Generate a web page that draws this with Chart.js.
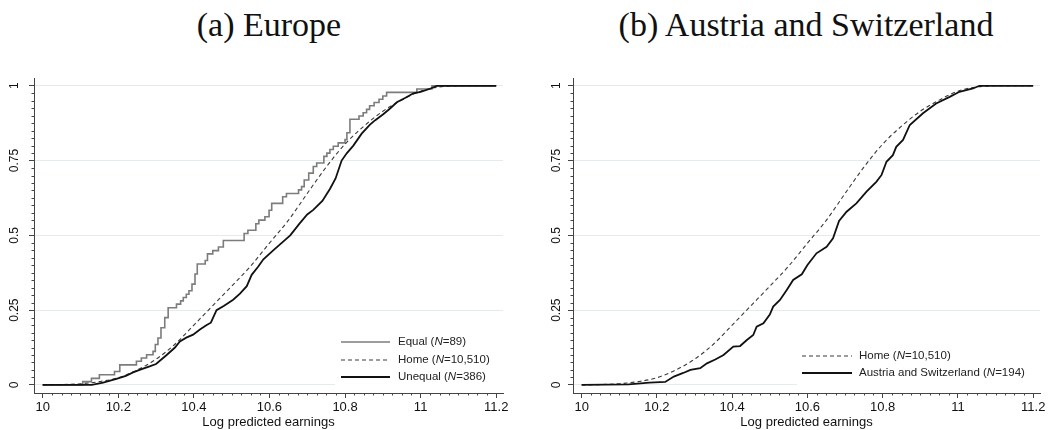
<!DOCTYPE html>
<html>
<head>
<meta charset="utf-8">
<script src="https://cdn.jsdelivr.net/npm/chart.js@4.4.1/dist/chart.umd.min.js"></script>
<style>
  body { margin: 0; width: 1055px; height: 430px; background: #fff; position: relative; overflow: hidden; }
  .titulo { position: absolute; top: 8px; font-family: "Liberation Serif", serif; font-size: 34px; line-height: 34px; color: #111; text-align: center; white-space: nowrap; }
  .painel { position: absolute; top: 60px; height: 370px; }
</style>
</head>
<body>
<div class="titulo" style="left:0;width:538px">(a) Europe</div>
<div class="titulo" style="left:527px;width:558px">(b) Austria and Switzerland</div>
<div class="painel" style="left:0;width:527px"><canvas id="chartEuropa"></canvas></div>
<div class="painel" style="left:527px;width:528px"><canvas id="chartAustria"></canvas></div>

<script>
// Eixos
const xTicks = [10, 10.2, 10.4, 10.6, 10.8, 11, 11.2];
const xTickLabels = ['10', '10.2', '10.4', '10.6', '10.8', '11', '11.2'];
const yTicks = [0, 0.25, 0.5, 0.75, 1];
const yTickLabels = ['0', '0.25', '0.5', '0.75', '1'];
const xTitulo = 'Log predicted earnings';

// Home (N=10,510) - mesma curva nos dois painéis
const homeX = [10.0, 10.05, 10.1, 10.15, 10.2, 10.25, 10.3, 10.35, 10.4, 10.45, 10.5, 10.55, 10.6, 10.65, 10.7, 10.75, 10.8, 10.85, 10.9, 10.95, 11.0, 11.05, 11.1, 11.2];
const homeY = [0, 0.001, 0.004, 0.011, 0.024, 0.05, 0.086, 0.136, 0.2, 0.265, 0.33, 0.397, 0.474, 0.55, 0.64, 0.728, 0.805, 0.865, 0.915, 0.952, 0.982, 0.996, 1.0, 1.0];

// Equal (N=89)
const equalX = [10.0, 10.106, 10.129, 10.15, 10.19, 10.204, 10.248, 10.261, 10.275, 10.292, 10.298, 10.305, 10.313, 10.323, 10.332, 10.354, 10.365, 10.372, 10.38, 10.387, 10.395, 10.403, 10.409, 10.43, 10.436, 10.45, 10.465, 10.478, 10.533, 10.543, 10.564, 10.572, 10.588, 10.599, 10.606, 10.635, 10.645, 10.677, 10.685, 10.692, 10.704, 10.716, 10.725, 10.744, 10.752, 10.76, 10.769, 10.782, 10.8, 10.805, 10.813, 10.837, 10.848, 10.857, 10.865, 10.877, 10.89, 10.9, 10.91, 10.99, 11.03, 11.2];
const equalY = [0, 0.011, 0.022, 0.034, 0.045, 0.067, 0.079, 0.09, 0.101, 0.112, 0.135, 0.157, 0.191, 0.225, 0.258, 0.27, 0.281, 0.292, 0.303, 0.315, 0.337, 0.371, 0.404, 0.416, 0.438, 0.449, 0.461, 0.483, 0.506, 0.517, 0.539, 0.551, 0.562, 0.584, 0.607, 0.629, 0.64, 0.652, 0.663, 0.685, 0.708, 0.73, 0.742, 0.764, 0.775, 0.787, 0.798, 0.809, 0.82, 0.843, 0.888, 0.899, 0.91, 0.921, 0.933, 0.944, 0.955, 0.966, 0.978, 0.989, 1.0, 1.0];

// Unequal (N=386)
const unequalX = [10.0, 10.13, 10.16, 10.195, 10.22, 10.239, 10.26, 10.283, 10.3, 10.328, 10.35, 10.363, 10.38, 10.398, 10.416, 10.434, 10.445, 10.46, 10.48, 10.504, 10.522, 10.54, 10.553, 10.57, 10.584, 10.61, 10.628, 10.655, 10.68, 10.7, 10.716, 10.74, 10.76, 10.775, 10.791, 10.805, 10.822, 10.844, 10.866, 10.88, 10.901, 10.92, 10.937, 10.96, 10.981, 11.0, 11.025, 11.043, 11.2];
const unequalY = [0, 0, 0.008, 0.02, 0.03, 0.042, 0.052, 0.062, 0.07, 0.1, 0.125, 0.145, 0.158, 0.168, 0.185, 0.2, 0.208, 0.25, 0.265, 0.285, 0.305, 0.33, 0.368, 0.395, 0.42, 0.45, 0.47, 0.5, 0.54, 0.57, 0.585, 0.615, 0.655, 0.69, 0.75, 0.775, 0.8, 0.84, 0.87, 0.885, 0.905, 0.925, 0.945, 0.96, 0.975, 0.98, 0.99, 1.0, 1.0];

// Austria and Switzerland (N=194)
const austriaX = [10.0, 10.125, 10.18, 10.222, 10.245, 10.27, 10.289, 10.315, 10.333, 10.355, 10.377, 10.403, 10.421, 10.439, 10.456, 10.465, 10.483, 10.5, 10.509, 10.527, 10.545, 10.562, 10.585, 10.6, 10.624, 10.651, 10.668, 10.684, 10.704, 10.73, 10.757, 10.783, 10.797, 10.81, 10.827, 10.836, 10.854, 10.872, 10.907, 10.942, 10.978, 11.004, 11.04, 11.057, 11.2];
const austriaY = [0, 0.002, 0.008, 0.01, 0.028, 0.04, 0.05, 0.056, 0.072, 0.085, 0.1, 0.128, 0.13, 0.15, 0.167, 0.195, 0.206, 0.235, 0.262, 0.284, 0.317, 0.351, 0.37, 0.401, 0.44, 0.462, 0.49, 0.548, 0.579, 0.607, 0.646, 0.679, 0.702, 0.746, 0.768, 0.796, 0.819, 0.869, 0.908, 0.941, 0.963, 0.98, 0.991, 1.0, 1.0];

const corEixo = '#444';
const corGrade = '#e3ebee';
const fonteEixo = '"Liberation Sans", Arial, sans-serif';

const estiloEqual = { borderColor: '#7c7c7c', borderWidth: 1.6, stepped: 'before', order: 2 };
const estiloHome = { borderColor: '#3a3a3a', borderWidth: 1.1, borderDash: [4, 3], cubicInterpolationMode: 'monotone', order: 1 };
const estiloPreto = { borderColor: '#111', borderWidth: 1.8, order: 0 };

function serie(label, xs, ys, estilo) {
  return Object.assign({
    label: label,
    data: xs.map((x, i) => ({ x: x, y: ys[i] })),
    pointRadius: 0,
    fill: false,
    tension: 0
  }, estilo);
}

// ticks menores, rótulos do eixo y girados e legenda dentro do gráfico
const extrasPlugin = {
  id: 'extras',
  afterDraw(chart, args, opts) {
    const ctx = chart.ctx;
    const sx = chart.scales.x, sy = chart.scales.y;
    const area = chart.chartArea;
    ctx.save();

    ctx.strokeStyle = corEixo;
    ctx.lineWidth = 1;
    ctx.beginPath();
    for (let i = 0; i <= 48; i++) {
      if (i % 8 === 0) continue;
      const px = Math.round(sx.getPixelForValue(10 + i * 0.025)) + 0.5;
      ctx.moveTo(px, area.bottom);
      ctx.lineTo(px, area.bottom + 2.5);
    }
    for (let i = 0; i <= 40; i++) {
      if (i % 10 === 0) continue;
      const py = Math.round(sy.getPixelForValue(i * 0.025)) + 0.5;
      ctx.moveTo(area.left, py);
      ctx.lineTo(area.left - 2.5, py);
    }
    ctx.stroke();

    // rótulos do eixo y
    ctx.fillStyle = '#111';
    ctx.font = '12px ' + fonteEixo;
    ctx.textAlign = 'center';
    ctx.textBaseline = 'middle';
    yTicks.forEach((v, i) => {
      ctx.save();
      ctx.translate(area.left - opts.yLabelOffset, sy.getPixelForValue(v));
      ctx.rotate(-Math.PI / 2);
      ctx.fillText(yTickLabels[i], 0, 0);
      ctx.restore();
    });

    // legenda
    const leg = opts.legenda;
    const topo = area.bottom + leg.linhas[0] - 10;
    ctx.fillStyle = '#fff';
    ctx.fillRect(area.left + leg.caixa, topo, area.right - area.left - leg.caixa, area.bottom - 1.5 - topo);
    ctx.font = '11.5px ' + fonteEixo;
    ctx.textAlign = 'left';
    leg.ordem.forEach((idx, k) => {
      const ds = chart.data.datasets[idx];
      const y = area.bottom + leg.linhas[k];
      ctx.strokeStyle = ds.borderColor;
      ctx.lineWidth = ds.borderWidth;
      ctx.setLineDash(ds.borderDash || []);
      ctx.beginPath();
      ctx.moveTo(area.left + leg.de, y);
      ctx.lineTo(area.left + leg.ate, y);
      ctx.stroke();
      ctx.setLineDash([]);
      // "N" em itálico
      const partes = ds.label.split('N=');
      let x = area.left + leg.texto;
      ctx.fillStyle = '#222';
      ctx.font = '11.5px ' + fonteEixo;
      ctx.fillText(partes[0], x, y);
      x += ctx.measureText(partes[0]).width;
      ctx.font = 'italic 11.5px ' + fonteEixo;
      ctx.fillText('N', x, y);
      x += ctx.measureText('N').width;
      ctx.font = '11.5px ' + fonteEixo;
      ctx.fillText('=' + partes[1], x, y);
    });
    ctx.restore();
  }
};

function criarGrafico(canvasId, datasets, cfg) {
  const ctx = document.getElementById(canvasId).getContext('2d');
  return new Chart(ctx, {
    type: 'line',
    data: { datasets: datasets },
    plugins: [extrasPlugin],
    options: {
      responsive: true,
      maintainAspectRatio: false,
      animation: false,
      layout: { padding: { top: 18, right: cfg.padDireita, bottom: 0, left: 0 } },
      plugins: {
        legend: { display: false },
        tooltip: { enabled: false },
        extras: { yLabelOffset: cfg.yLabelOffset, legenda: cfg.legenda }
      },
      scales: {
        x: {
          type: 'linear',
          min: 9.977,
          max: 11.218,
          afterBuildTicks: s => { s.ticks = xTicks.map(v => ({ value: v })); },
          afterFit: s => { s.height = 37; },
          ticks: {
            autoSkip: false,
            maxRotation: 0,
            padding: 2,
            color: '#111',
            font: { family: fonteEixo, size: 13 },
            callback: (v) => xTickLabels[xTicks.indexOf(v)]
          },
          grid: { drawOnChartArea: false, drawTicks: true, tickLength: 5, tickColor: corEixo, tickWidth: 1 },
          border: { color: corEixo, width: 1 },
          title: { display: true, text: xTitulo, color: '#111', font: { family: fonteEixo, size: 13 }, padding: { top: 0, bottom: 0 } }
        },
        y: {
          type: 'linear',
          min: -0.027,
          max: 1.026,
          afterBuildTicks: s => { s.ticks = yTicks.map(v => ({ value: v })); },
          afterFit: s => { s.width = cfg.larguraY; },
          ticks: { display: false },
          grid: { color: corGrade, lineWidth: 1, drawTicks: true, tickLength: 5, tickColor: corEixo, tickWidth: 1 },
          border: { color: corEixo, width: 1 }
        }
      }
    }
  });
}

criarGrafico('chartEuropa', [
  serie('Equal (N=89)', equalX, equalY, estiloEqual),
  serie('Home (N=10,510)', homeX, homeY, estiloHome),
  serie('Unequal (N=386)', unequalX, unequalY, estiloPreto)
], {
  padDireita: 24,
  larguraY: 34,
  yLabelOffset: 19,
  legenda: { caixa: 301, de: 307, ate: 356, texto: 364, linhas: [-51, -33, -16], ordem: [0, 1, 2] }
});

criarGrafico('chartAustria', [
  serie('Home (N=10,510)', homeX, homeY, estiloHome),
  serie('Austria and Switzerland (N=194)', austriaX, austriaY, estiloPreto)
], {
  padDireita: 15,
  larguraY: 46,
  yLabelOffset: 16,
  legenda: { caixa: 224, de: 229, ate: 279, texto: 286, linhas: [-37, -20], ordem: [0, 1] }
});
</script>
</body>
</html>
